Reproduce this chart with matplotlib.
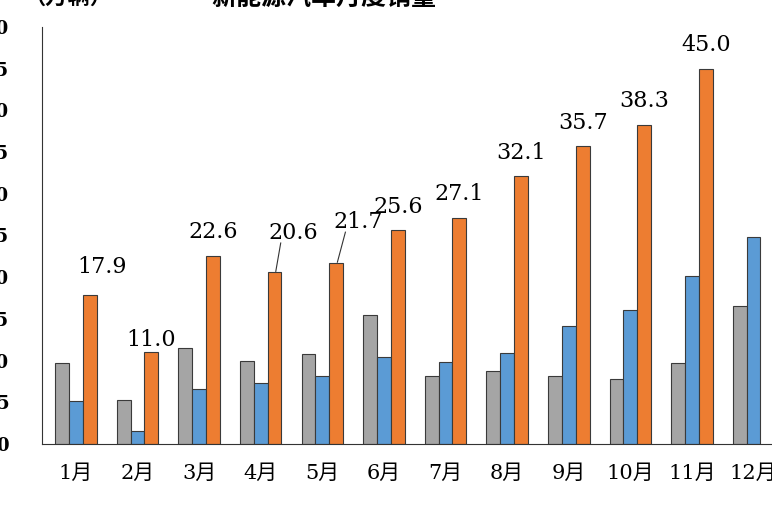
import matplotlib
matplotlib.use("Agg")
import matplotlib.pyplot as plt
import numpy as np

months = ["1月","2月","3月","4月","5月","6月","7月","8月","9月","10月","11月","12月"]
s2019 = [9.7, 5.3, 11.5, 10.0, 10.8, 15.5, 8.2, 8.8, 8.2, 7.8, 9.7, 16.5]
s2020 = [5.2, 1.6, 6.6, 7.3, 8.2, 10.4, 9.8, 10.9, 14.2, 16.1, 20.1, 24.8]
s2021 = [17.9, 11.0, 22.6, 20.6, 21.7, 25.6, 27.1, 32.1, 35.7, 38.3, 45.0]
ylabels = ["0","5","10","15","20","25","30","35","40","45","50"]

fam = ['DejaVu Serif', 'Noto Sans CJK SC']
fig = plt.figure(figsize=(7.72, 5.15), dpi=100)
ax = fig.add_axes([42/772, (515-444)/515, 1-42/772, (444-27)/515])
x = np.arange(12)
w = 0.225
ec = '#3a3a3a'
ax.bar(x - w, s2019, w, color='#a5a5a5', edgecolor=ec, linewidth=0.8)
ax.bar(x, s2020, w, color='#5b9bd5', edgecolor=ec, linewidth=0.8)
ax.bar(x[:11] + w, s2021, w, color='#ed7d31', edgecolor=ec, linewidth=0.8)
ax.set_xlim(-0.55, 11.3)
ax.set_ylim(0, 50)
ax.set_yticks(np.arange(0, 51, 5))
ax.set_yticklabels(ylabels, fontsize=13, fontweight='bold', family=fam)
ax.tick_params(axis='y', length=0, pad=24)
ax.set_xticks(x)
ax.set_xticklabels(months, fontsize=15, family=fam)
ax.tick_params(axis='x', length=0, pad=14)
for sp in ['top', 'right']:
    ax.spines[sp].set_visible(False)
ax.spines['left'].set_color('#333333')
ax.spines['bottom'].set_color('#333333')

offs = {0: (0.2, 2.0), 1: (0.0, 0.2), 3: (0.3, 3.4), 4: (0.35, 3.6)}
for i, v in enumerate(s2021):
    dx, dy = offs.get(i, (0.0, 1.5))
    tx, ty = x[i] + w + dx, v + dy
    ax.text(tx, ty, f"{v:.1f}", ha='center', va='bottom', fontsize=16, family=fam)
    if i in (3, 4):
        ax.plot([x[i] + w + 0.02, tx - 0.2], [v + 0.1, ty + 0.1], color='#333333', lw=0.8)

fig.text(0.03, 1.005, "（万辆）", fontsize=16, fontweight='bold', family=['Noto Sans CJK SC'], va='center')
fig.text(0.42, 1.005, "新能源汽车月度销量", fontsize=18, fontweight='bold', family=['Noto Sans CJK SC'], va='center', ha='center')
fig.savefig("out.png", dpi=100)
